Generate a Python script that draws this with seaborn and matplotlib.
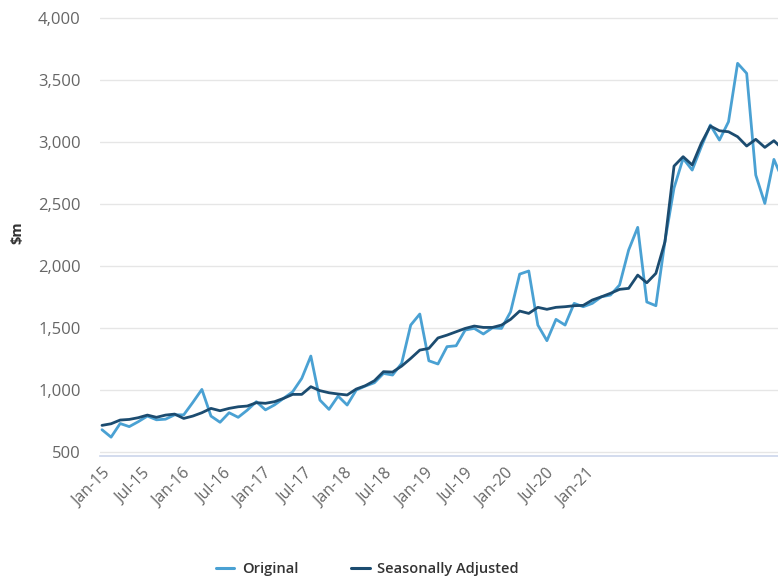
import numpy as np
import pandas as pd
import matplotlib
matplotlib.use("Agg")
import matplotlib.pyplot as plt
import seaborn as sns

# Monatswerte Jan-15 .. Apr-21 ($m)
original = [680, 620, 730, 705, 745, 790, 760, 765, 800, 800, 900, 1005,
            790, 740, 817, 780, 838, 906, 840, 880, 933, 986, 1094, 1274,
            919, 844, 951, 879, 1000, 1032, 1059, 1134, 1121, 1215, 1524, 1613,
            1236, 1210, 1350, 1357, 1484, 1497, 1452, 1502, 1497, 1631, 1935, 1960,
            1524, 1398, 1570, 1524, 1699, 1672, 1699, 1752, 1766, 1847, 2129, 2312,
            1710, 1680, 2200, 2630, 2868, 2774, 2962, 3137, 3016, 3164, 3635, 3554,
            2734, 2505, 2860, 2690]
seasonally_adjusted = [715, 728, 758, 763, 777, 798, 780, 798, 806, 771, 790, 817,
                       852, 833, 852, 865, 871, 898, 893, 906, 933, 965, 965, 1027,
                       995, 978, 968, 960, 1008, 1035, 1075, 1148, 1145, 1193, 1255, 1322,
                       1336, 1420, 1443, 1470, 1497, 1516, 1505, 1505, 1524, 1570, 1637, 1618,
                       1667, 1651, 1667, 1672, 1680, 1683, 1726, 1752, 1780, 1812, 1820, 1927,
                       1865, 1941, 2196, 2806, 2882, 2815, 2990, 3129, 3091, 3083, 3043, 2968,
                       3022, 2957, 3011, 2941]
tick_labels = ["Jan-15", "Jul-15", "Jan-16", "Jul-16", "Jan-17", "Jul-17", "Jan-18",
               "Jul-18", "Jan-19", "Jul-19", "Jan-20", "Jul-20", "Jan-21"]
series_names = ["Original", "Seasonally Adjusted"]
colors = ["#4aa1d3", "#1c4c70"]

months = np.arange(len(original))
df = pd.DataFrame({
    "month": np.concatenate([months, months]),
    "value": original + seasonally_adjusted,
    "series": [series_names[0]] * len(original) + [series_names[1]] * len(seasonally_adjusted),
})

sns.set_style("white")
plt.rcParams["font.family"] = ["Open Sans", "DejaVu Sans"]

fig = plt.figure(figsize=(7.78, 5.8), dpi=100)
ax = fig.add_axes([100 / 778, 1 - 456 / 580, 678 / 778, 446 / 580])

sns.lineplot(data=df, x="month", y="value", hue="series", hue_order=series_names,
             palette=colors, linewidth=2.0, ax=ax, legend=False)

ax.set_ylim(468, 4065)
ax.set_xlim(-0.22, 74.45)
ax.set_yticks(np.arange(500, 4001, 500))
ax.set_yticklabels([f"{v:,}" for v in range(500, 4001, 500)])
ax.yaxis.grid(True, color="#e6e6e6", linewidth=1.0)
ax.xaxis.grid(False)

# Beschriftungen so verteilt wie in der Vorlage
label_pos = np.arange(len(tick_labels)) * 40.36 / 9.08
ax.set_xticks(label_pos)
ax.set_xticklabels(tick_labels, rotation=45, ha="right", va="top", rotation_mode="anchor")

ax.tick_params(axis="y", length=0, pad=14, labelsize=12, labelcolor="#666666")
ax.tick_params(axis="x", length=0, pad=7, labelsize=11.5, labelcolor="#666666")

for side in ["top", "right", "left"]:
    ax.spines[side].set_visible(False)
ax.spines["bottom"].set_color("#ccd6eb")
ax.spines["bottom"].set_linewidth(1.2)

ax.set_xlabel("")
ax.set_ylabel(r"\$m", fontsize=10.5, fontweight="bold", color="#333333", labelpad=10)

handles = [plt.Line2D([0], [0], color=c, linewidth=2.2) for c in colors]
fig.legend(handles, series_names, loc="center", bbox_to_anchor=(367 / 778, 1 - 569 / 580),
           ncol=2, frameon=False, handlelength=1.3, handletextpad=0.5, columnspacing=3.6,
           prop={"size": 10.5, "weight": "semibold"}, labelcolor="#333333")

fig.savefig("out.png", dpi=100)
